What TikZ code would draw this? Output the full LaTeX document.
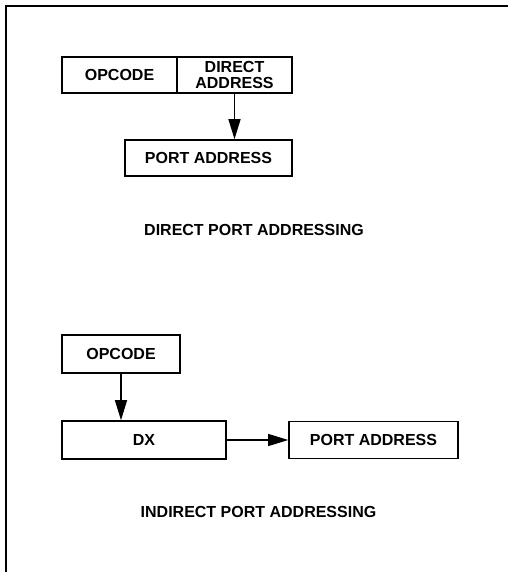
\documentclass[tikz,border=0pt]{standalone}
\usepackage{fontspec}
\setmainfont{Liberation Sans}
\usetikzlibrary{arrows.meta}
\begin{document}
\begin{tikzpicture}[x=1pt,y=-1pt,
  box/.style={draw,line width=1.6pt,inner sep=0pt,font=\fontsize{16}{16.5}\selectfont\bfseries,align=center},
  lbl/.style={font=\fontsize{16}{16.5}\selectfont\bfseries,inner sep=0pt},
  arr/.style={line width=1.3pt,-{Triangle[length=20pt,width=12pt]}}]
\useasboundingbox (0,0) rectangle (512,572);
\draw[line width=1.6pt] (6,572) coordinate (fb) -- (6,6) coordinate (fc) -- (508,6) coordinate (fr);
% direct
\node[box,minimum width=115pt,minimum height=36pt] (op1) at (119.5,75) {OPCODE};
\node[box,minimum width=115pt,minimum height=36pt] (da) at (234.5,75) {DIRECT\\ADDRESS};
\node[box,minimum width=167pt,minimum height=36pt] (pa1) at (208.5,158) {PORT ADDRESS};
\draw[arr] (da.south) -- (da.south |- pa1.north);
\node[lbl] (t1) at (254,230) {DIRECT PORT ADDRESSING};
% indirect
\node[box,minimum width=118pt,minimum height=38pt] (op2) at (121,354) {OPCODE};
\node[box,minimum width=164pt,minimum height=38pt] (dx) at (144,440) {DX};
\node[box,minimum width=169pt,minimum height=37pt] (pa2) at (373.5,440) {PORT ADDRESS};
\draw[arr] (op2.south) -- (op2.south |- dx.north);
\draw[arr] (dx.east) -- (pa2.west);
\node[lbl] (t2) at (258.5,512) {INDIRECT PORT ADDRESSING};
\end{tikzpicture}
\end{document}
